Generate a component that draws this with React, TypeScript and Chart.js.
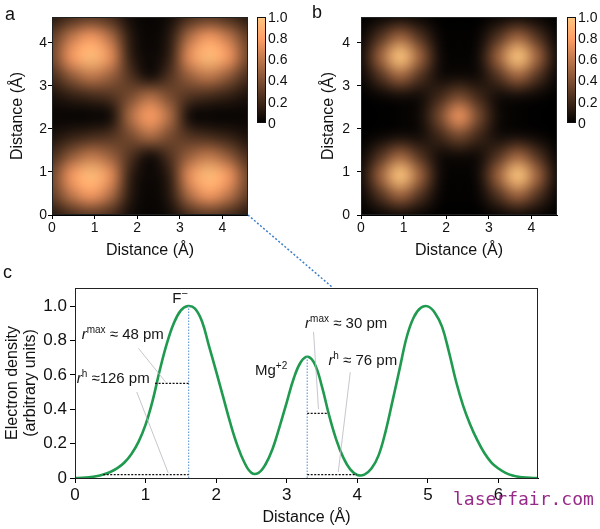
import React, { useEffect, useRef } from 'react';
import { Chart, registerables } from 'chart.js';
Chart.register(...registerables);

const FONT = '"Liberation Sans", Arial, Helvetica, sans-serif';

// ---- Panels a / b : electron density maps ----
const GRID_COORDS = [0, 0.46, 0.92, 1.38, 1.84, 2.3, 2.76, 3.22, 3.68, 4.14, 4.6];
// rows from y = 0 (bottom) to y = 4.6 (top)
const DENSITY_A = [
  [0.12, 0.22, 0.28, 0.22, 0.06, 0.02, 0.06, 0.22, 0.28, 0.22, 0.12],
  [0.30, 0.60, 0.77, 0.55, 0.12, 0.02, 0.12, 0.55, 0.77, 0.60, 0.30],
  [0.35, 0.77, 0.95, 0.72, 0.15, 0.03, 0.15, 0.72, 0.95, 0.77, 0.35],
  [0.22, 0.45, 0.60, 0.48, 0.25, 0.06, 0.25, 0.48, 0.60, 0.45, 0.22],
  [0.08, 0.15, 0.20, 0.25, 0.38, 0.55, 0.38, 0.25, 0.20, 0.15, 0.08],
  [0.03, 0.02, 0.02, 0.06, 0.55, 0.80, 0.55, 0.06, 0.02, 0.02, 0.03],
  [0.08, 0.15, 0.20, 0.25, 0.38, 0.55, 0.38, 0.25, 0.20, 0.15, 0.08],
  [0.22, 0.45, 0.60, 0.48, 0.25, 0.06, 0.25, 0.48, 0.60, 0.45, 0.22],
  [0.35, 0.77, 0.95, 0.72, 0.15, 0.03, 0.15, 0.72, 0.95, 0.77, 0.35],
  [0.30, 0.60, 0.77, 0.55, 0.12, 0.02, 0.12, 0.55, 0.77, 0.60, 0.30],
  [0.12, 0.22, 0.28, 0.22, 0.06, 0.02, 0.06, 0.22, 0.28, 0.22, 0.12],
];
const DENSITY_B = [
  [0.00, 0.03, 0.06, 0.03, 0.00, 0.00, 0.00, 0.03, 0.06, 0.03, 0.00],
  [0.03, 0.26, 0.50, 0.26, 0.03, 0.01, 0.03, 0.26, 0.50, 0.26, 0.03],
  [0.06, 0.50, 1.00, 0.50, 0.06, 0.01, 0.06, 0.50, 1.00, 0.50, 0.06],
  [0.03, 0.26, 0.50, 0.26, 0.06, 0.05, 0.06, 0.26, 0.50, 0.26, 0.03],
  [0.00, 0.03, 0.06, 0.06, 0.20, 0.37, 0.20, 0.06, 0.06, 0.03, 0.00],
  [0.00, 0.00, 0.01, 0.05, 0.37, 0.75, 0.37, 0.05, 0.01, 0.00, 0.00],
  [0.00, 0.03, 0.06, 0.06, 0.20, 0.37, 0.20, 0.06, 0.06, 0.03, 0.00],
  [0.03, 0.26, 0.50, 0.26, 0.06, 0.05, 0.06, 0.26, 0.50, 0.26, 0.03],
  [0.06, 0.50, 1.00, 0.50, 0.06, 0.01, 0.06, 0.50, 1.00, 0.50, 0.06],
  [0.03, 0.26, 0.50, 0.26, 0.03, 0.01, 0.03, 0.26, 0.50, 0.26, 0.03],
  [0.00, 0.03, 0.06, 0.03, 0.00, 0.00, 0.00, 0.03, 0.06, 0.03, 0.00],
];
const MAP_TICKS = [0, 1, 2, 3, 4];
const MAP_TICK_LABELS = ['0', '1', '2', '3', '4'];
const COLORBAR_TICKS = [0, 0.2, 0.4, 0.6, 0.8, 1.0];
const COLORBAR_LABELS = ['0', '0.2', '0.4', '0.6', '0.8', '1.0'];

// ---- Panel c : electron density profile ----
const DISTANCE = [0, 0.1, 0.2, 0.3, 0.4, 0.5, 0.6, 0.7, 0.8, 0.9, 1.0, 1.1, 1.2, 1.3, 1.4, 1.5, 1.6, 1.7, 1.8, 1.9,
  2.0, 2.1, 2.2, 2.3, 2.4, 2.5, 2.6, 2.7, 2.8, 2.9, 3.0, 3.1, 3.2, 3.3, 3.4, 3.5, 3.6, 3.7, 3.8, 3.9,
  4.0, 4.1, 4.2, 4.3, 4.4, 4.5, 4.6, 4.7, 4.8, 4.9, 5.0, 5.1, 5.2, 5.3, 5.4, 5.5, 5.6, 5.7, 5.8, 5.9,
  6.0, 6.1, 6.2, 6.3, 6.4, 6.5, 6.56];
const DENSITY = [0, 0.001, 0.004, 0.01, 0.02, 0.035, 0.057, 0.09, 0.14, 0.21, 0.31, 0.45, 0.625, 0.78, 0.90, 0.975, 1.0, 0.985, 0.91, 0.765,
  0.62, 0.47, 0.32, 0.19, 0.09, 0.03, 0.03, 0.08, 0.17, 0.30, 0.44, 0.58, 0.675, 0.705, 0.66, 0.53, 0.365, 0.225, 0.12, 0.05,
  0.018, 0.02, 0.055, 0.13, 0.27, 0.45, 0.635, 0.82, 0.935, 0.99, 0.998, 0.96, 0.88, 0.73, 0.56, 0.42, 0.31, 0.22, 0.145, 0.09,
  0.055, 0.03, 0.014, 0.006, 0.002, 0, 0];
const LINE_X_TICKS = [0, 1, 2, 3, 4, 5, 6];
const LINE_X_LABELS = ['0', '1', '2', '3', '4', '5', '6'];
const LINE_Y_TICKS = [0, 0.2, 0.4, 0.6, 0.8, 1.0];
const LINE_Y_LABELS = ['0', '0.2', '0.4', '0.6', '0.8', '1.0'];

// ion peaks (position, height) and radius markers
const PEAK_X = [1.61, 3.29];
const PEAK_Y = [1.0, 0.705];
const RADIUS_LINES = [
  { y: 0.55, x1: 1.135, x2: 1.61 },
  { y: 0.02, x1: 0.40, x2: 1.61 },
  { y: 0.376, x1: 3.29, x2: 3.59 },
  { y: 0.02, x1: 3.29, x2: 3.99 },
];
const LEADERS = [
  { x1: 0.90, y1: 0.754, x2: 1.28, y2: 0.56 },
  { x1: 0.875, y1: 0.50, x2: 1.32, y2: 0.03 },
  { x1: 3.38, y1: 0.85, x2: 3.45, y2: 0.40 },
  { x1: 3.90, y1: 0.615, x2: 3.73, y2: 0.035 },
];
type Seg = { t: string; size: number; italic?: boolean; rise?: number };
const RT = (t: string): Seg => ({ t, size: 15, italic: true });
const ANNOTATIONS: { x: number; y: number; center?: boolean; segs: Seg[] }[] = [
  { x: 1.49, y: 1.017, center: true, segs: [{ t: 'F', size: 15 }, { t: '−', size: 11, rise: 6 }] },
  { x: 0.095, y: 0.81, segs: [RT('r'), { t: 'max', size: 10, rise: 6 }, { t: ' ≈ 48 pm', size: 15 }] },
  { x: 0.024, y: 0.55, segs: [RT('r'), { t: 'h', size: 10, rise: 6 }, { t: ' ≈126 pm', size: 15 }] },
  { x: 2.55, y: 0.60, segs: [{ t: 'Mg', size: 15 }, { t: '+2', size: 10, rise: 6 }] },
  { x: 3.26, y: 0.87, segs: [RT('r'), { t: 'max', size: 10, rise: 6 }, { t: ' ≈ 30 pm', size: 15 }] },
  { x: 3.59, y: 0.657, segs: [RT('r'), { t: 'h', size: 10, rise: 6 }, { t: ' ≈ 76 pm', size: 15 }] },
];

function copper(v: number): [number, number, number] {
  const t = Math.max(0, Math.min(1, v));
  return [Math.min(255, 255 * 1.25 * t), 255 * 0.7812 * t, 255 * 0.4975 * t];
}

function heatmapPlugin(grid: number[][]) {
  return {
    id: 'heatmap',
    beforeDatasetsDraw(chart: any) {
      const { ctx, chartArea, scales } = chart;
      const n = grid.length;
      const m = grid[0].length;
      const off = document.createElement('canvas');
      off.width = m;
      off.height = n;
      const octx = off.getContext('2d')!;
      const img = octx.createImageData(m, n);
      for (let r = 0; r < n; r++) {
        const row = grid[n - 1 - r];
        for (let c = 0; c < m; c++) {
          const [R, G, B] = copper(row[c]);
          const k = (r * m + c) * 4;
          img.data[k] = R; img.data[k + 1] = G; img.data[k + 2] = B; img.data[k + 3] = 255;
        }
      }
      octx.putImageData(img, 0, 0);
      const half = (GRID_COORDS[1] - GRID_COORDS[0]) / 2;
      const x0 = scales.x.getPixelForValue(GRID_COORDS[0] - half);
      const x1 = scales.x.getPixelForValue(GRID_COORDS[m - 1] + half);
      const y0 = scales.y.getPixelForValue(GRID_COORDS[n - 1] + half);
      const y1 = scales.y.getPixelForValue(GRID_COORDS[0] - half);
      ctx.save();
      ctx.beginPath();
      ctx.rect(chartArea.left, chartArea.top, chartArea.right - chartArea.left, chartArea.bottom - chartArea.top);
      ctx.clip();
      ctx.imageSmoothingEnabled = true;
      (ctx as any).imageSmoothingQuality = 'high';
      ctx.drawImage(off, x0, y0, x1 - x0, y1 - y0);
      ctx.restore();
    },
    afterDatasetsDraw(chart: any) {
      const { ctx, chartArea } = chart;
      ctx.save();
      ctx.strokeStyle = '#222';
      ctx.lineWidth = 1;
      ctx.strokeRect(Math.round(chartArea.left) + 0.5, Math.round(chartArea.top) + 0.5,
        Math.round(chartArea.right - chartArea.left) - 1, Math.round(chartArea.bottom - chartArea.top) - 1);
      ctx.restore();
    },
  };
}

function colorbarPlugin(gap: number) {
  return {
    id: 'colorbar',
    afterDraw(chart: any) {
      const { ctx, chartArea } = chart;
      const left = chartArea.right + gap;
      const top = chartArea.top;
      const w = 9;
      const h = 106;
      const grad = ctx.createLinearGradient(0, top + h, 0, top);
      for (let i = 0; i <= 20; i++) {
        const [R, G, B] = copper(i / 20);
        grad.addColorStop(i / 20, `rgb(${R},${G},${B})`);
      }
      ctx.save();
      ctx.fillStyle = grad;
      ctx.fillRect(left, top, w, h);
      ctx.strokeStyle = '#111';
      ctx.lineWidth = 1;
      ctx.strokeRect(left + 0.5, top + 0.5, w - 1, h - 1);
      ctx.fillStyle = '#111';
      ctx.font = `14px ${FONT}`;
      ctx.textAlign = 'left';
      ctx.textBaseline = 'middle';
      COLORBAR_TICKS.forEach((v, i) => {
        const y = top + h - v * h;
        ctx.fillText(COLORBAR_LABELS[i], left + w + 2, y + 1);
      });
      ctx.restore();
    },
  };
}

function heatConfig(grid: number[][], yWidth: number, rightPad: number, titlePad: number, tickPad: number, gap: number): any {
  return {
    type: 'scatter',
    data: { datasets: [] },
    options: {
      animation: false,
      responsive: false,
      events: [],
      layout: { padding: { top: 17, right: rightPad, left: 0, bottom: 0 } },
      plugins: { legend: { display: false }, tooltip: { enabled: false } },
      scales: {
        x: {
          type: 'linear', min: 0, max: 4.6,
          afterBuildTicks: (s: any) => { s.ticks = MAP_TICKS.map((v) => ({ value: v })); },
          afterFit: (s: any) => { s.height = 47; },
          ticks: { font: { size: 14, family: FONT }, color: '#111', padding: 1, maxRotation: 0,
            callback: (_v: any, i: number) => MAP_TICK_LABELS[i] },
          grid: { drawOnChartArea: false, tickLength: 4, color: '#000' },
          border: { color: '#000' },
          title: { display: true, text: 'Distance (Å)', font: { size: 16, family: FONT }, color: '#111', padding: { top: 0, bottom: 2 } },
        },
        y: {
          type: 'linear', min: 0, max: 4.6,
          afterBuildTicks: (s: any) => { s.ticks = MAP_TICKS.map((v) => ({ value: v })); },
          afterFit: (s: any) => { s.width = yWidth; },
          ticks: { font: { size: 14, family: FONT }, color: '#111', padding: tickPad,
            callback: (_v: any, i: number) => MAP_TICK_LABELS[i] },
          grid: { drawOnChartArea: false, tickLength: 4, color: '#000' },
          border: { color: '#000' },
          title: { display: true, text: 'Distance (Å)', font: { size: 16, family: FONT }, color: '#111', padding: { top: titlePad, bottom: 0 } },
        },
      },
    },
    plugins: [heatmapPlugin(grid), colorbarPlugin(gap)],
  };
}

function drawRich(ctx: CanvasRenderingContext2D, x: number, y: number, segs: Seg[], center?: boolean) {
  const widths = segs.map((s) => {
    ctx.font = `${s.italic ? 'italic ' : ''}${s.size}px ${FONT}`;
    return ctx.measureText(s.t).width;
  });
  let cx = center ? x - widths.reduce((a, b) => a + b, 0) / 2 : x;
  segs.forEach((s, i) => {
    ctx.font = `${s.italic ? 'italic ' : ''}${s.size}px ${FONT}`;
    ctx.fillText(s.t, cx, y - (s.rise || 0));
    cx += widths[i];
  });
}

const profileAnnotations = {
  id: 'profileAnnotations',
  afterDatasetsDraw(chart: any) {
    const { ctx, chartArea, scales } = chart;
    const X = (v: number) => scales.x.getPixelForValue(v);
    const Y = (v: number) => scales.y.getPixelForValue(v);
    ctx.save();
    // frame
    ctx.strokeStyle = '#222';
    ctx.lineWidth = 1;
    ctx.strokeRect(Math.round(chartArea.left) + 0.5, Math.round(chartArea.top) + 0.5,
      Math.round(chartArea.right - chartArea.left) - 1, Math.round(chartArea.bottom - chartArea.top));
    // leaders
    ctx.strokeStyle = '#b8b8c0';
    ctx.lineWidth = 0.8;
    LEADERS.forEach((l) => {
      ctx.beginPath();
      ctx.moveTo(X(l.x1), Y(l.y1));
      ctx.lineTo(X(l.x2), Y(l.y2));
      ctx.stroke();
    });
    // peak verticals
    ctx.strokeStyle = '#6a9fd6';
    ctx.lineWidth = 1.2;
    ctx.setLineDash([1.5, 1.5]);
    PEAK_X.forEach((px, i) => {
      ctx.beginPath();
      ctx.moveTo(X(px), Y(0));
      ctx.lineTo(X(px), Y(PEAK_Y[i]));
      ctx.stroke();
    });
    // radius lines
    ctx.strokeStyle = '#111';
    ctx.lineWidth = 1.3;
    ctx.setLineDash([2, 1.5]);
    RADIUS_LINES.forEach((r) => {
      ctx.beginPath();
      ctx.moveTo(X(r.x1), Y(r.y));
      ctx.lineTo(X(r.x2), Y(r.y));
      ctx.stroke();
    });
    ctx.setLineDash([]);
    // text
    ctx.fillStyle = '#161616';
    ctx.textBaseline = 'alphabetic';
    ctx.textAlign = 'left';
    ANNOTATIONS.forEach((a) => drawRich(ctx, X(a.x), Y(a.y), a.segs, a.center));
    ctx.restore();
  },
};

function profileConfig(): any {
  return {
    type: 'scatter',
    data: {
      datasets: [{
        data: DISTANCE.map((x, i) => ({ x, y: DENSITY[i] })),
        showLine: true,
        borderColor: '#1f9a4f',
        borderWidth: 2.6,
        pointRadius: 0,
        tension: 0.4,
        fill: false,
      }],
    },
    options: {
      animation: false,
      responsive: false,
      events: [],
      layout: { padding: { top: 26, right: 62, left: 0, bottom: 0 } },
      plugins: { legend: { display: false }, tooltip: { enabled: false } },
      scales: {
        x: {
          type: 'linear', min: 0, max: 6.56,
          afterBuildTicks: (s: any) => { s.ticks = LINE_X_TICKS.map((v) => ({ value: v })); },
          afterFit: (s: any) => { s.height = 51; },
          ticks: { font: { size: 17, family: FONT }, color: '#111', padding: 2, maxRotation: 0,
            callback: (_v: any, i: number) => LINE_X_LABELS[i] },
          grid: { drawOnChartArea: false, tickLength: 5, color: '#000' },
          border: { color: '#000' },
          title: { display: true, text: 'Distance (Å)', font: { size: 16, family: FONT }, color: '#111', padding: { top: 0, bottom: 2 } },
        },
        y: {
          type: 'linear', min: 0, max: 1.105,
          afterBuildTicks: (s: any) => { s.ticks = LINE_Y_TICKS.map((v) => ({ value: v })); },
          afterFit: (s: any) => { s.width = 75; },
          ticks: { font: { size: 17, family: FONT }, color: '#111', padding: 3,
            callback: (_v: any, i: number) => LINE_Y_LABELS[i] },
          grid: { drawOnChartArea: false, tickLength: 5, color: '#000' },
          border: { color: '#000' },
          title: { display: true, text: ['Electron density', '(arbitrary units)'], font: { size: 16, family: FONT, lineHeight: 1.1 }, color: '#111', padding: { top: 4, bottom: 0 } },
        },
      },
    },
    plugins: [profileAnnotations],
  };
}

function ChartCanvas({ config, left, top, width, height }: { config: () => any; left: number; top: number; width: number; height: number }) {
  const ref = useRef<HTMLCanvasElement>(null);
  useEffect(() => {
    if (!ref.current) return;
    const chart = new Chart(ref.current, config());
    return () => chart.destroy();
  }, []);
  return (
    <canvas ref={ref} width={width} height={height}
      style={{ position: 'absolute', left, top, width, height }} />
  );
}

const labelStyle: React.CSSProperties = {
  position: 'absolute', fontFamily: FONT, fontSize: 18, lineHeight: '18px', color: '#111',
};

export default function App() {
  useEffect(() => {
    document.body.style.margin = '0';
  }, []);
  return (
    <div style={{ position: 'absolute', left: 0, top: 0, width: 600, height: 529, background: '#fff', overflow: 'hidden' }}>
      <ChartCanvas config={() => heatConfig(DENSITY_A, 52, 52, 8, 1, 9)} left={0} top={0} width={300} height={262} />
      <ChartCanvas config={() => heatConfig(DENSITY_B, 61, 43, 19, 7, 10)} left={300} top={0} width={300} height={262} />
      <ChartCanvas config={profileConfig} left={0} top={262} width={600} height={267} />
      <svg width={600} height={529} style={{ position: 'absolute', left: 0, top: 0, pointerEvents: 'none' }}>
        <line x1={248} y1={215} x2={332} y2={287} stroke="#3f7fc8" strokeWidth={1.5} strokeDasharray="2 2" />
      </svg>
      <div style={{ ...labelStyle, left: 5, top: 5 }}>a</div>
      <div style={{ ...labelStyle, left: 312, top: 3 }}>b</div>
      <div style={{ ...labelStyle, left: 3, top: 263 }}>c</div>
      <div style={{ position: 'absolute', left: 453, top: 490, fontFamily: '"DejaVu Sans Mono", "Liberation Mono", monospace', fontSize: 18, lineHeight: '18px', color: '#962a88', whiteSpace: 'nowrap' }}>laserfair.com</div>
    </div>
  );
}
